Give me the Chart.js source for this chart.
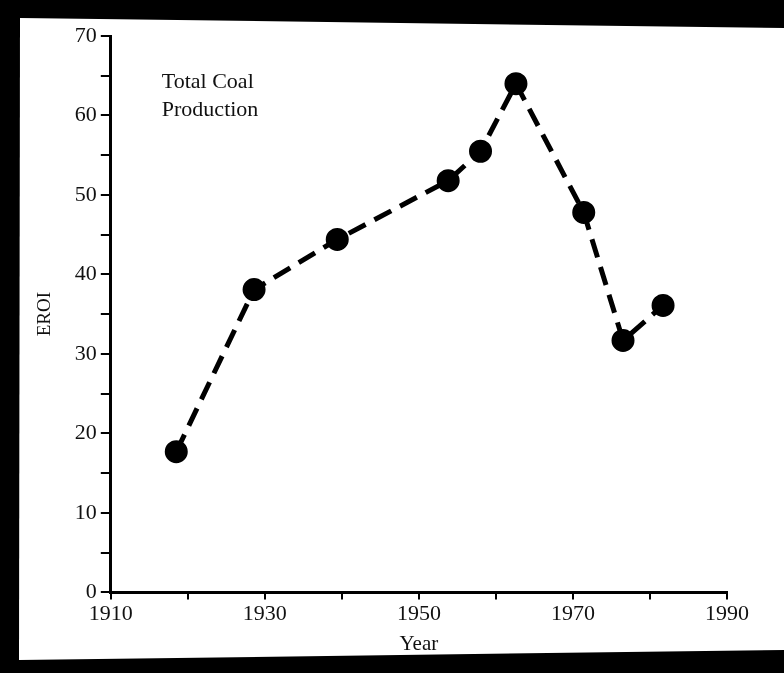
<!DOCTYPE html>
<html>
<head>
  <meta charset="utf-8" />
  <title>EROI - Total Coal Production</title>
  <script src="https://cdn.jsdelivr.net/npm/chart.js"></script>
  <style>
    html, body { margin: 0; padding: 0; background: #000; }
    #page { position: absolute; left: 0; top: 0; width: 784px; height: 673px; background: #fff;
            clip-path: polygon(20px 18px, 784px 28px, 784px 650px, 19px 660px); }
    #wrap { position: absolute; left: 0; top: 0; width: 784px; height: 673px; }
  </style>
</head>
<body>
  <div id="page"></div>
  <div id="wrap"><canvas id="eroiChart" width="784" height="673"></canvas></div>

  <script>
  // values
  const years = [1918.5, 1928.6, 1939.4, 1953.8, 1958.0, 1962.6, 1971.4, 1976.5, 1981.7];
  const eroi  = [17.7, 38.1, 44.4, 51.8, 55.5, 64.0, 47.8, 31.7, 36.1];
  const xTicks = [1910, 1930, 1950, 1970, 1990];
  const yTicks = [0, 10, 20, 30, 40, 50, 60, 70];
  const noteLines = ['Total Coal', 'Production'];

  const serif = "'Liberation Serif', 'DejaVu Serif', serif";

  // label text inside the plot
  const notePlugin = {
    id: 'note',
    afterDraw(chart) {
      const ctx = chart.ctx;
      const a = chart.chartArea;
      ctx.save();
      ctx.fillStyle = '#111';
      ctx.font = '22px ' + serif;
      ctx.textBaseline = 'middle';
      noteLines.forEach((t, i) => ctx.fillText(t, a.left + 51, a.top + 46 + i * 28));
      ctx.restore();
    }
  };

  new Chart(document.getElementById('eroiChart').getContext('2d'), {
    type: 'line',
    data: {
      datasets: [{
        data: years.map((y, i) => ({ x: y, y: eroi[i] })),
        borderColor: '#000',
        borderWidth: 5,
        borderDash: [19, 10],
        pointRadius: 9,
        pointBackgroundColor: '#000',
        pointBorderColor: '#000',
        tension: 0
      }]
    },
    options: {
      responsive: false,
      animation: false,
      layout: { padding: { top: 36, right: 57, bottom: 12, left: 30 } },
      plugins: { legend: { display: false }, tooltip: { enabled: false } },
      scales: {
        x: {
          type: 'linear', min: 1910, max: 1990,
          grid: { drawOnChartArea: false, color: '#000', tickLength: 7, lineWidth: 2 },
          border: { color: '#000', width: 3 },
          ticks: {
            stepSize: 10, color: '#111', padding: 2,
            font: { family: serif, size: 22 },
            callback: v => xTicks.includes(v) ? String(v) : ''
          },
          title: { display: true, text: 'Year', color: '#111', font: { family: serif, size: 21 }, padding: { top: 2 } }
        },
        y: {
          min: 0, max: 70,
          grid: { drawOnChartArea: false, color: '#000', tickLength: 10, lineWidth: 2 },
          border: { color: '#000', width: 3 },
          ticks: {
            stepSize: 5, color: '#111', padding: 4,
            font: { family: serif, size: 22 },
            callback: v => yTicks.includes(v) ? String(v) : ''
          },
          title: { display: true, text: 'EROI', color: '#111', font: { family: serif, size: 19 }, padding: { bottom: 14 } }
        }
      }
    },
    plugins: [notePlugin]
  });
  </script>
</body>
</html>
